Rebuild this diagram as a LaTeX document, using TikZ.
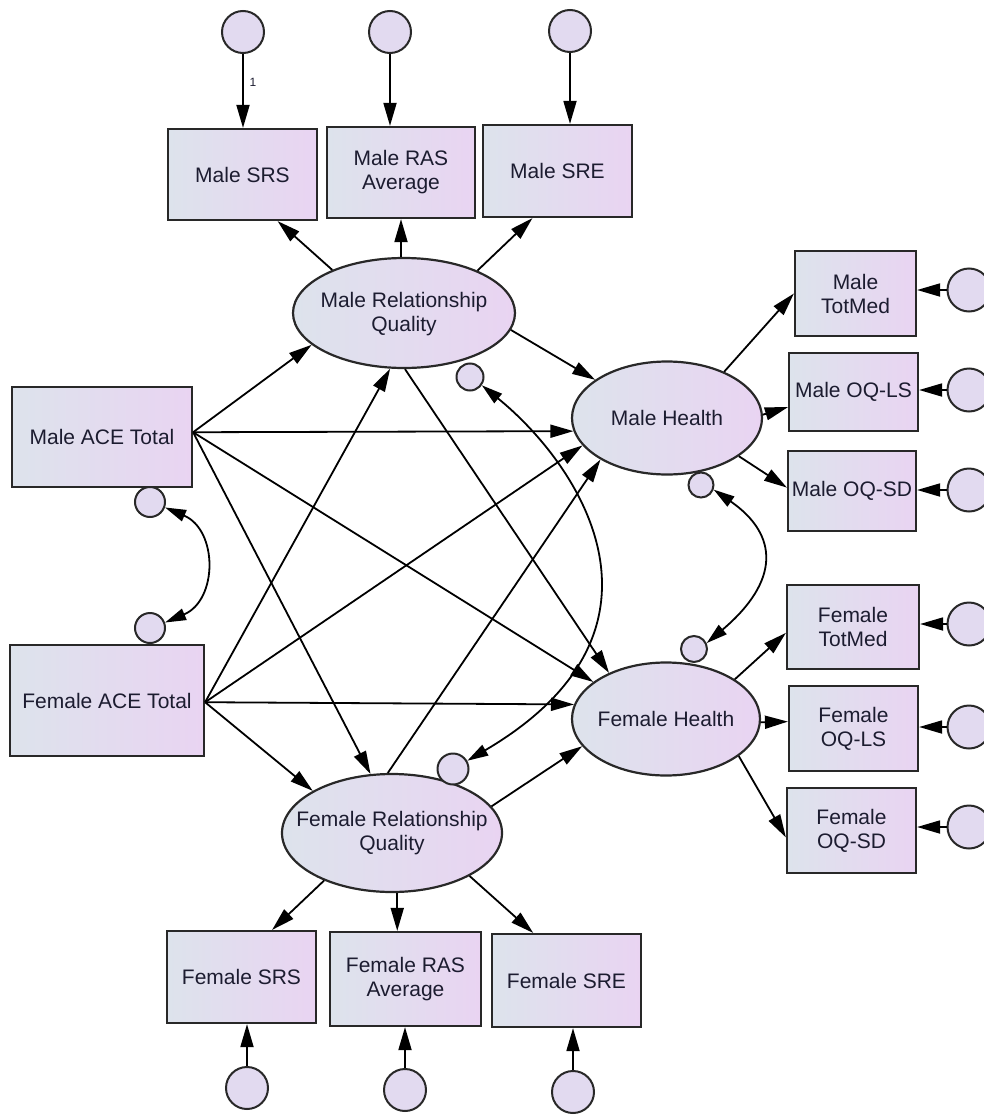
\documentclass[tikz,border=0pt]{standalone}
\usepackage{fontspec}
\setmainfont{Liberation Sans}
\usetikzlibrary{arrows.meta,shapes.geometric,calc}
\definecolor{fillL}{RGB}{221,227,236}
\definecolor{fillR}{RGB}{233,212,242}
\definecolor{errfill}{RGB}{226,218,240}
\definecolor{edgec}{RGB}{40,40,40}
\definecolor{ink}{RGB}{28,28,48}
\begin{document}
\begin{tikzpicture}[x=1pt,y=-1pt,
  box/.style={rectangle,draw=edgec,line width=2.2pt,left color=fillL,right color=fillR,inner sep=0pt,align=center,font=\fontsize{21}{24}\selectfont,text=ink},
  lat/.style={ellipse,draw=edgec,line width=2.2pt,left color=fillL,right color=fillR,inner sep=0pt},
  lattext/.style={align=center,font=\fontsize{21}{24}\selectfont,text=ink,inner sep=0pt},
  err/.style={circle,draw=edgec,line width=2pt,fill=errfill,inner sep=0pt},
  arr/.style={-{Triangle[length=23pt,width=13pt]},line width=1.8pt,draw=black},
  dbl/.style={{Triangle[length=21pt,width=12pt]}-{Triangle[length=21pt,width=12pt]},line width=1.8pt,draw=black},
]
\useasboundingbox (0,0) rectangle (984,1116);

% top indicators
\node[err,minimum size=42pt] (e1) at (243,32) {};
\node[err,minimum size=42pt] (e2) at (390,32) {};
\node[err,minimum size=42pt] (e3) at (570,31) {};
\node[box,minimum width=149pt,minimum height=91pt] (mSRS) at (242.5,174.5) {Male SRS};
\node[box,minimum width=148pt,minimum height=91pt] (mRAS) at (401,172.5) {Male RAS\\Average};
\node[box,minimum width=149pt,minimum height=92pt] (mSRE) at (557.5,171) {Male SRE};

% male relationship quality
\node[lat,minimum width=222pt,minimum height=110pt] (mRQ) at (404,313) {};
\node[lattext] (mRQt) at (404,314) {Male Relationship\\Quality};
\node[err,minimum size=27pt] (mRQe) at (470,377) {};

% male health
\node[lat,minimum width=190pt,minimum height=113pt] (mH) at (667,418) {};
\node[lattext] (mHt) at (667,418) {Male Health};
\node[err,minimum size=25pt] (mHe) at (701,485) {};
\node[box,minimum width=121pt,minimum height=85pt] (mTot) at (855.5,293.5) {Male\\TotMed};
\node[box,minimum width=129pt,minimum height=78pt] (mOQLS) at (853.5,392) {Male OQ-LS};
\node[box,minimum width=128pt,minimum height=80pt] (mOQSD) at (852,491) {Male OQ-SD};
\node[err,minimum size=43pt] (r1) at (969,290) {};
\node[err,minimum size=43pt] (r2) at (969,390) {};
\node[err,minimum size=43pt] (r3) at (969,490) {};

% ACE
\node[box,minimum width=180pt,minimum height=100pt] (mACE) at (102,437) {Male ACE Total};
\node[err,minimum size=30pt] (mACEe) at (150,502) {};
\node[err,minimum size=30pt] (fACEe) at (150,628) {};
\node[box,minimum width=194pt,minimum height=111pt] (fACE) at (107,700.5) {Female ACE Total};

% female health
\node[lat,minimum width=188pt,minimum height=113pt] (fH) at (666,719) {};
\node[lattext] (fHt) at (666,719) {Female Health};
\node[err,minimum size=26pt] (fHe) at (694,649) {};
\node[box,minimum width=132pt,minimum height=84pt] (fTot) at (853,627) {Female\\TotMed};
\node[box,minimum width=129pt,minimum height=85pt] (fOQLS) at (853.5,728.5) {Female\\OQ-LS};
\node[box,minimum width=129pt,minimum height=85pt] (fOQSD) at (851.5,830.5) {Female\\OQ-SD};
\node[err,minimum size=43pt] (r4) at (969,624) {};
\node[err,minimum size=43pt] (r5) at (969,727) {};
\node[err,minimum size=43pt] (r6) at (969,827) {};

% female relationship quality
\node[lat,minimum width=220pt,minimum height=118pt] (fRQ) at (392,833) {};
\node[lattext] (fRQt) at (392,833) {Female Relationship\\Quality};
\node[err,minimum size=31pt] (fRQe) at (453,769) {};
\node[box,minimum width=149pt,minimum height=92pt] (fSRS) at (241.5,977) {Female SRS};
\node[box,minimum width=151pt,minimum height=94pt] (fRAS) at (405.5,979) {Female RAS\\Average};
\node[box,minimum width=149pt,minimum height=93pt] (fSRE) at (566.5,980.5) {Female SRE};
\node[err,minimum size=42pt] (b1) at (247,1088) {};
\node[err,minimum size=42pt] (b2) at (405,1090) {};
\node[err,minimum size=42pt] (b3) at (573,1092) {};

% top error arrows
\draw[arr] (e1) -- (e1 |- mSRS.north);
\draw[arr] (e2) -- (e2 |- mRAS.north);
\draw[arr] (e3) -- (e3 |- mSRE.north);
\node[font=\fontsize{12}{14}\selectfont,text=ink,inner sep=0pt] (one) at (253,82) {1};

% male RQ loadings
\draw[arr] (mRQ.149) -- (mSRS.-53);
\draw[arr] (mRQ.north -| mRAS) -- (mRAS);
\draw[arr] (mRQ.30) -- (mSRE.-118);

% ACE paths
\draw[arr] (mACE.3) -- (mRQ.-161);
\draw[arr] (mACE.3) -- (mH.-172);
\draw[arr] (mACE.3) -- (fH.153);
\draw[arr] (mACE.3) -- (fRQ.110);
\draw[arr] (fACE.-1) -- (mRQ.-104);
\draw[arr] (fACE.-1) -- (mH.-162);
\draw[arr] (fACE.-1) -- (fH.171);
\draw[arr] (fACE.-1) -- (fRQ.152);

% RQ to health
\draw[arr] (mRQ.-9) -- (mH.152);
\draw[arr] (mRQ.-89) -- (fH.141);
\draw[arr] (fRQ.94) -- (mH.-148);
\draw[arr] (fRQ.15) -- (fH.-162);

% female RQ loadings
\draw[arr] (fRQ.-145) -- (fSRS.57);
\draw[arr] (fRQ.-85) -- (fRQ.-85 |- fRAS.north);
\draw[arr] (fRQ.-29) -- (fSRE.125);
\draw[arr] (b1) -- (b1 |- fSRS.south);
\draw[arr] (b2) -- (b2 |- fRAS.south);
\draw[arr] (b3) -- (b3 |- fSRE.south);

% health loadings
\draw[arr] (mH.39) -- (mTot.west);
\draw[arr] (mH.2) -- (mOQLS.-167);
\draw[arr] (mH.-28) -- (mOQSD.177);
\draw[arr] (fH.30) -- (fTot.-175);
\draw[arr] (fH.-2) -- (fOQLS.174);
\draw[arr] (fH.-27) -- (fOQSD.-174);
\draw[arr] (r1) -- (r1 -| mTot.east);
\draw[arr] (r2) -- (r2 -| mOQLS.east);
\draw[arr] (r3) -- (r3 -| mOQSD.east);
\draw[arr] (r4) -- (r4 -| fTot.east);
\draw[arr] (r5) -- (r5 -| fOQLS.east);
\draw[arr] (r6) -- (r6 -| fOQSD.east);

% covariances
\draw[dbl] (mACEe.-20) .. controls (218,530) and (218,600) .. (fACEe.20);
\draw[dbl] (mRQe.-35) .. controls (580,465) and (690,630) .. (fRQe.30);
\draw[dbl] (mHe.-20) .. controls (779,535) and (780,581) .. (fHe.25);
\end{tikzpicture}
\end{document}
